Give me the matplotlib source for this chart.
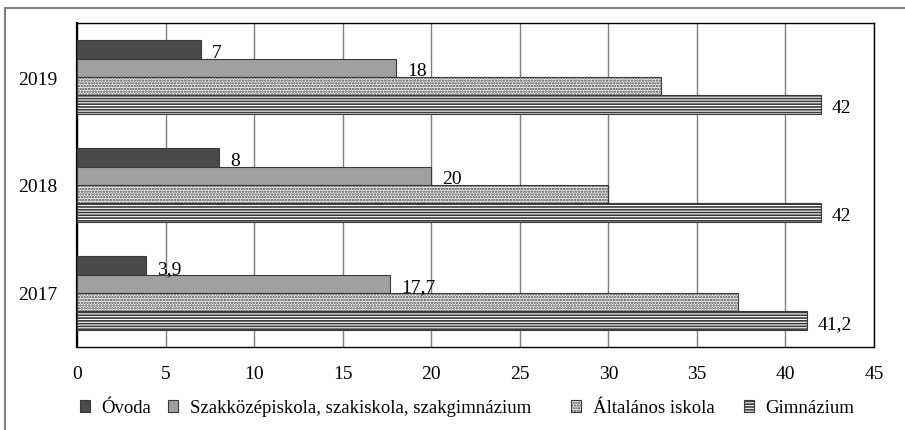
import matplotlib

matplotlib.use("Agg")
import matplotlib.pyplot as plt
from matplotlib.lines import Line2D
from matplotlib.patches import Patch

plt.rcParams["font.family"] = ["Liberation Serif", "DejaVu Serif"]
plt.rcParams["hatch.linewidth"] = 1.2
plt.rcParams["hatch.color"] = "black"

years = ["2017", "2018", "2019"]
series_names = [
    "Óvoda",
    "Szakközépiskola, szakiskola, szakgimnázium",
    "Általános iskola",
    "Gimnázium",
]
ovoda = [3.9, 8, 7]
szakkozep = [17.7, 20, 18]
altalanos = [37.3, 30, 33]
gimnazium = [41.2, 42, 42]

ovoda_labels = ["3,9", "8", "7"]
szakkozep_labels = ["17,7", "20", "18"]
gimnazium_labels = ["41,2", "42", "42"]

W, H = 905, 431
fig = plt.figure(figsize=(W / 100, H / 100), dpi=100)
ax = fig.add_axes([77 / W, 1 - 348 / H, (874 - 77) / W, (348 - 24) / H])

h = 0.17
y = range(len(years))
styles = [
    dict(color="#4a4a4c", edgecolor="#3a3a3a", hatch=None),
    dict(color="#a0a0a0", edgecolor="#3a3a3a", hatch=None),
    dict(color="white", edgecolor="#3a3a3a", hatch="......"),
    dict(color="white", edgecolor="#3a3a3a", hatch="------"),
]
data = [ovoda, szakkozep, altalanos, gimnazium]
labels = [ovoda_labels, szakkozep_labels, None, gimnazium_labels]
offsets = [1.5 * h, 0.5 * h, -0.5 * h, -1.5 * h]

for vals, st, off, labs in zip(data, styles, offsets, labels):
    bars = ax.barh([i + off for i in y], vals, h, color=st["color"],
                   edgecolor=st["edgecolor"], hatch=st["hatch"], linewidth=0.8, zorder=3)
    if labs:
        for b, t in zip(bars, labs):
            ax.annotate(t, (b.get_width(), b.get_y() + b.get_height() / 2),
                        xytext=(8, -2), textcoords="offset points",
                        va="center", ha="left", fontsize=14, zorder=4)

ax.set_xlim(0, 45)
ax.set_ylim(-0.5, 2.5)
ax.set_xticks(range(0, 46, 5))
ax.set_yticks(list(y))
ax.set_yticklabels(years)
ax.tick_params(axis="both", length=0, labelsize=14)
ax.tick_params(axis="x", pad=13)
ax.tick_params(axis="y", pad=14)
ax.grid(axis="x", color="#7f7f7f", linewidth=1, zorder=0)
for s in ax.spines.values():
    s.set_color("black")
    s.set_linewidth(1)
ax.spines["left"].set_linewidth(1.6)

# legend entries placed one by one
leg_x = [80, 168, 571, 744]
for name, st, lx in zip(series_names, styles, leg_x):
    handle = Patch(facecolor=st["color"], edgecolor=st["edgecolor"],
                   hatch=st["hatch"], linewidth=0.8)
    leg = fig.legend([handle], [name], loc="center left",
                     bbox_to_anchor=(lx / W, 1 - 409 / H), frameon=False,
                     fontsize=13.5, handlelength=0.55, handleheight=0.55,
                     handletextpad=0.6, borderpad=0, borderaxespad=0)

# outer frame (top and left edge)
fig.add_artist(Line2D([5 / W, 1], [1 - 9 / H, 1 - 9 / H], color="#808080", lw=1.5))
fig.add_artist(Line2D([5 / W, 5 / W], [0, 1 - 9 / H], color="#808080", lw=1.5))

fig.savefig("out.png", dpi=100)
